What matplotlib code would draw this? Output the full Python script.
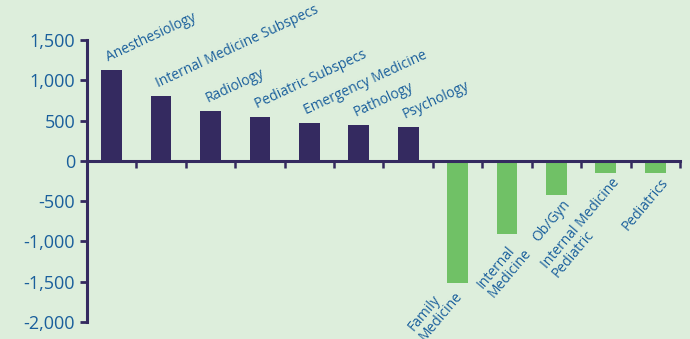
import numpy as np
import matplotlib.pyplot as plt
from matplotlib.ticker import FuncFormatter

plt.rcParams['font.family'] = ['Open Sans', 'DejaVu Sans']

specialties = ["Anesthesiology", "Internal Medicine Subspecs", "Radiology",
               "Pediatric Subspecs", "Emergency Medicine", "Pathology",
               "Psychology", "Family\nMedicine", "Internal\nMedicine",
               "Ob/Gyn", "Internal Medicine\nPediatric", "Pediatrics"]
values = [1130, 810, 625, 550, 475, 450, 425, -1520, -910, -425, -145, -145]
yticks = [-2000, -1500, -1000, -500, 0, 500, 1000, 1500]

bg = '#ddeedc'
dark = '#342a60'
green = '#70c166'
txt = '#1a5f9c'

fig = plt.figure(figsize=(6.9, 3.39), dpi=100, facecolor=bg)
ax = fig.add_axes([0.126, 0.050, 0.8595, 0.832])
ax.set_facecolor(bg)

x = np.arange(len(values))
colors = [dark if v > 0 else green for v in values]
ax.bar(x, values, width=0.42, color=colors)

ax.set_xlim(-0.5, len(values) - 0.5)
ax.set_ylim(-2000, 1500)
ax.set_yticks(yticks)
ax.yaxis.set_major_formatter(FuncFormatter(lambda v, p: f"{int(v):,}"))
ax.set_xticks(x + 0.5)
ax.set_xticklabels([])

for s in ['top', 'right']:
    ax.spines[s].set_visible(False)
ax.spines['bottom'].set_position(('data', 0))
for s in ['left', 'bottom']:
    ax.spines[s].set_color(dark)
    ax.spines[s].set_linewidth(2.2)
ax.tick_params(axis='y', colors=dark, labelcolor=txt, labelsize=13, length=5, width=2)
ax.tick_params(axis='x', colors=dark, length=5, width=1.8, direction='out')

fs = 10
# the longest bar's label sits a little up and to the left in the original
nudge = {"Family\nMedicine": (-20, 7)}

for i, (name, v) in enumerate(zip(specialties, values)):
    if v > 0:
        ax.text(i - 0.06, v + 100, name, rotation=25, rotation_mode='anchor',
                ha='left', va='baseline', color=txt, fontsize=fs)
    else:
        ax.annotate(name, (i + 0.1, v - 30), xytext=nudge.get(name, (0, 0)),
                    textcoords='offset pixels', rotation=50,
                    rotation_mode='anchor', ha='right', va='top', color=txt,
                    fontsize=fs, multialignment='left', linespacing=1.0)

fig.savefig("out.png", dpi=100, facecolor=bg)
